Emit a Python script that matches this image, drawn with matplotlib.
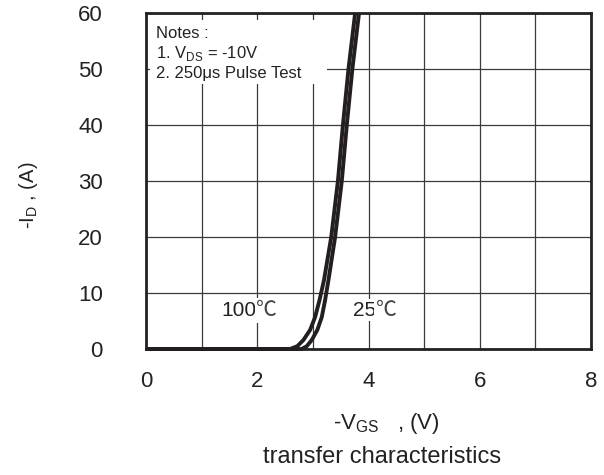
import matplotlib
matplotlib.use("Agg")
import matplotlib.pyplot as plt
from matplotlib.patches import Rectangle
from matplotlib.ticker import MultipleLocator

plt.rcParams["font.family"] = ["Liberation Sans", "DejaVu Sans"]
plt.rcParams["mathtext.fontset"] = "custom"
plt.rcParams["mathtext.rm"] = "Liberation Sans"

# -VGS (V) vs -ID (A)
vgs_100 = [0.0, 2.59, 2.72, 2.83, 2.95, 3.04, 3.12, 3.20, 3.33, 3.45, 3.54, 3.64, 3.76]
id_100 = [0.0, 0.0, 0.5, 1.6, 3.4, 5.7, 8.75, 12.3, 20, 30, 40, 50, 60]
vgs_25 = [0.0, 2.80, 2.89, 2.98, 3.08, 3.16, 3.22, 3.28, 3.40, 3.52, 3.61, 3.71, 3.83]
id_25 = [0.0, 0.0, 0.5, 1.6, 3.4, 5.7, 8.75, 12.3, 20, 30, 40, 50, 60]

x_ticks = [0, 2, 4, 6, 8]
y_ticks = [0, 10, 20, 30, 40, 50, 60]
notes = "Notes :\n1. V$_{\\mathregular{DS}}$ = -10V\n2. 250\u03bcs Pulse Test"
temps = [("100", 1.98), ("25", 4.13)]

fig = plt.figure(figsize=(6.04, 4.75), dpi=100)
ax = fig.add_axes([146 / 604, 1 - 349 / 475, 445 / 604, 336 / 475])

ax.set_xlim(0, 8)
ax.set_ylim(0, 60)
ax.set_xticks(x_ticks)
ax.set_yticks(y_ticks)
ax.xaxis.set_minor_locator(MultipleLocator(1))
ax.grid(True, which="both", color="#3a3a3a", linewidth=0.9, zorder=1)
ax.set_axisbelow(True)
ax.tick_params(which="both", length=0, labelsize=16, colors="#222222")
ax.tick_params(axis="x", pad=16)
ax.tick_params(axis="y", pad=31)
for sp in ax.spines.values():
    sp.set_linewidth(2)
    sp.set_color("#222222")

for v, i in [(vgs_100, id_100), (vgs_25, id_25)]:
    ax.plot(v, i, color="#231f20", lw=2.8, zorder=4, clip_on=False,
            solid_capstyle="butt", solid_joinstyle="round")

# white box behind the notes
ax.add_patch(Rectangle((0.07, 47.3), 3.18, 11.5, facecolor="white",
                       edgecolor="none", zorder=2))
ax.text(0.18, 57.6, notes, fontsize=12, va="top", ha="left",
        linespacing=1.2, color="#222222", zorder=3)

# temperature labels: digits in Arial-like font, degree sign in CJK font
for num, xpos in temps:
    ax.text(xpos, 6.9, num, fontsize=15, ha="right", va="center",
            color="#222222", zorder=3,
            bbox=dict(facecolor="white", edgecolor="none", pad=1))
    ax.text(xpos, 6.9, "\u2103", fontsize=15, ha="left", va="center",
            family=["Noto Sans CJK SC", "DejaVu Sans"], fontweight="light",
            color="#444444", zorder=3,
            bbox=dict(facecolor="white", edgecolor="none", pad=1))

fig.text(29 / 604, 1 - 195 / 475, "-I$_{\\mathregular{D}}$ , (A)", rotation=90,
         fontsize=14.5, ha="center", va="center", color="#222222")
fig.text(386 / 604, 1 - 423 / 475, "-V$_{\\mathregular{GS}}$   , (V)",
         fontsize=16, ha="center", va="center", color="#222222")
fig.text(382 / 604, 1 - 457 / 475, "transfer characteristics",
         fontsize=17, ha="center", va="center", color="#222222")

fig.savefig("out.png", dpi=100)
